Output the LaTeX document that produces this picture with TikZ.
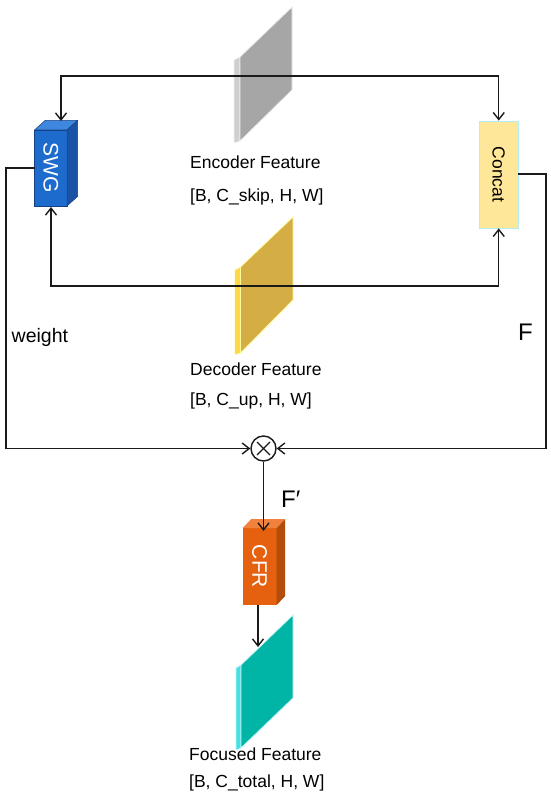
\documentclass[tikz,border=0pt]{standalone}
\usepackage{fontspec}
\setmainfont{Liberation Sans}
\usetikzlibrary{arrows.meta,calc}
\definecolor{swgfront}{HTML}{1E6BCE}
\definecolor{swgtop}{HTML}{3F86DE}
\definecolor{swgside}{HTML}{1A52A6}
\definecolor{cfrfront}{HTML}{E5600F}
\definecolor{cfrtop}{HTML}{F0823E}
\definecolor{cfrside}{HTML}{B24D0C}
\definecolor{concatfill}{HTML}{FFE799}
\definecolor{concatdraw}{HTML}{B5EDF5}
\definecolor{grayfront}{HTML}{A6A6A6}
\definecolor{graystrip}{HTML}{CFCFCF}
\definecolor{yelfront}{HTML}{D5AD45}
\definecolor{yelstrip}{HTML}{FFD84A}
\definecolor{cyanfront}{HTML}{00B5A5}
\definecolor{cyanstrip}{HTML}{40E2E2}
\definecolor{linec}{HTML}{1A1A1A}
\tikzset{
  conn/.style={draw=linec,line width=1.4pt},
  arr/.style={conn,-{Straight Barb[length=7pt,width=11pt]}},
  lbl/.style={font=\fontsize{17.5}{20}\selectfont,anchor=base west,inner sep=0pt},
  big/.style={font=\fontsize{24}{28}\selectfont,anchor=base west,inner sep=0pt},
  boxfront/.style={inner sep=0pt,outer sep=0pt,text=white},
}
\begin{document}
\begin{tikzpicture}[x=1pt,y=-1pt]
\useasboundingbox[fill=white] (0,0) rectangle (550,802);

% feature planes
% encoder (gray)
\fill[graystrip,draw=white!90!gray,line width=0.6pt] (234,60) -- (240,57) -- (240,141) -- (234,143) -- cycle;
\fill[grayfront,draw=white!85!gray,line width=0.8pt] (240,57) -- (292,7) -- (292,90) -- (240,141) -- cycle;
\coordinate (enc) at (272,76);
% decoder (yellow)
\fill[yelstrip,draw=white!85!yellow,line width=0.6pt] (234.5,270) -- (240.5,267) -- (240.5,353) -- (234.5,355) -- cycle;
\fill[yelfront,draw=yellow!40!white,line width=0.8pt] (240.5,267) -- (293,217) -- (293,300) -- (240.5,353) -- cycle;
\coordinate (dec) at (272,286);
% focused (cyan)
\fill[cyanstrip,draw=white!80!cyan,line width=0.6pt] (236,668) -- (241,665) -- (241,748) -- (236,750) -- cycle;
\fill[cyanfront,draw=white!70!cyanstrip,line width=0.8pt] (241,665) -- (293,615) -- (293,698) -- (241,748) -- cycle;
\coordinate (foc) at (258,647);

% SWG box
\node[boxfront,fill=swgfront,draw=swgside!80!black,line width=0.5pt,minimum width=32.5pt,minimum height=76pt] (swg) at (50.75,168) {\fontsize{21}{24}\selectfont\rotatebox{-90}{SWG}};
\fill[swgtop,draw=swgside!80!black,line width=0.5pt] (swg.north west) -- ++(10.5,-9.5) -- ($(swg.north east)+(10.5,-9.5)$) -- (swg.north east) -- cycle;
\fill[swgside,draw=swgside!80!black,line width=0.5pt] (swg.north east) -- ++(10.5,-9.5) -- ($(swg.south east)+(10.5,-9.5)$) -- (swg.south east) -- cycle;

% Concat box
\node[inner sep=0pt,fill=concatfill,draw=concatdraw,line width=0.8pt,minimum width=38.5pt,minimum height=107pt] (concat) at (498.75,174.5) {\fontsize{17.5}{20}\selectfont\rotatebox{-90}{Concat}};

% CFR box
\node[boxfront,fill=cfrfront,minimum width=34pt,minimum height=77pt] (cfr) at (259.7,566.5) {\fontsize{21}{24}\selectfont\rotatebox{-90}{CFR}};
\fill[cfrtop] (cfr.north west) -- ++(8.5,-9) -- ($(cfr.north east)+(8.5,-9)$) -- (cfr.north east) -- cycle;
\fill[cfrside] (cfr.north east) -- ++(8.5,-9) -- ($(cfr.south east)+(8.5,-9)$) -- (cfr.south east) -- cycle;

% multiply
\node[circle,draw=linec,line width=1.4pt,minimum size=25pt,inner sep=0pt,fill=white] (mul) at (263.5,448.5) {};
\draw[linec,line width=1.4pt] ($(mul.center)+(-6.5,-6.5)$) -- ($(mul.center)+(6.5,6.5)$);
\draw[linec,line width=1.4pt] ($(mul.center)+(-6.5,6.5)$) -- ($(mul.center)+(6.5,-6.5)$);

% texts
\node[lbl] (enct) at (190,169) {Encoder Feature};
\node[lbl] (encs) at (190,202) {[B, C\_skip, H, W]};
\node[lbl] (dect) at (190,375.5) {Decoder Feature};
\node[lbl] (decs) at (190,405) {[B, C\_up, H, W]};
\node[lbl] (foct) at (189,760) {Focused Feature};
\node[lbl] (focs) at (189,787) {[B, C\_total, H, W]};
\node[font=\fontsize{19.5}{22}\selectfont,anchor=base west,inner sep=0pt] (wt) at (11.5,342.5) {weight};
\node[big] (ft) at (518,340.5) {F};
\node[big] (fpt) at (281,507) {F′};

% connectors
\coordinate (swgin) at (61,121);
\coordinate (swgbot) at (51,207);
\draw[arr] (enc) -| (swgin);
\draw[arr] (enc) -| (concat.north);
\draw[arr] (dec) -| (swgbot);
\draw[arr] (dec) -| (concat.south);
\coordinate (wl) at (6,168);
\coordinate (fr) at (546,174);
\draw[arr] (swg.west |- wl) -- (wl) |- (mul.west);
\draw[arr] (concat.east |- fr) -- (fr) |- (mul.east);
\coordinate (cfrin) at (263.5,531);
\draw[arr] (mul.south) -- (cfrin);
\draw[arr] (cfr.south -| foc) -- (foc);
\end{tikzpicture}
\end{document}
